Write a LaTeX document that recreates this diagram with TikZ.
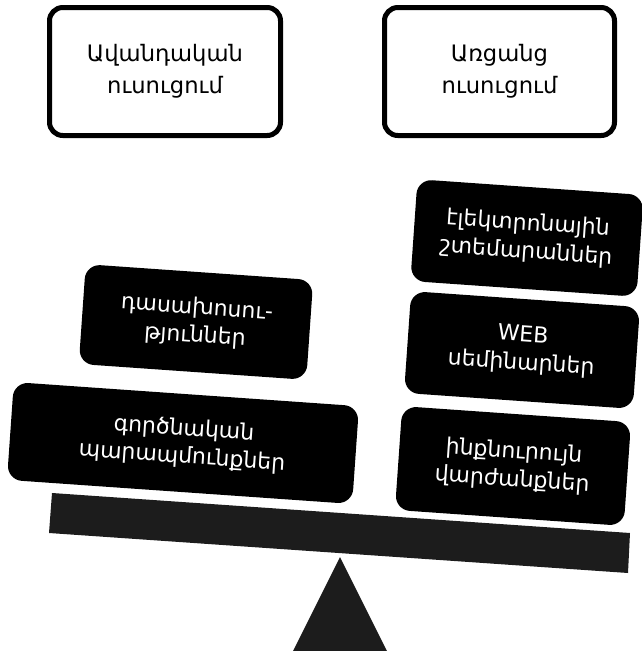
\documentclass[tikz,border=0pt]{standalone}
\usepackage{fontspec}
\setmainfont{DejaVu Sans}
\definecolor{beamgray}{HTML}{1C1C1C}
\begin{document}
\begin{tikzpicture}[x=0.75pt,y=-0.75pt,
  topbox/.style={draw=black, line width=3.75pt, rounded corners=10pt, fill=white,
    align=center, font=\fontsize{17}{24}\selectfont, inner sep=0pt},
  blkbox/.style={fill=black, text=white, rounded corners=11pt, align=center,
    rotate=-4, font=\fontsize{16.5}{21}\selectfont, inner sep=0pt},
  beamshape/.style={fill=beamgray}]
\useasboundingbox (0,0) rectangle (642,651);
% top boxes
\node[topbox, minimum width=173.25pt, minimum height=96pt] (trad) at (165,71.5) {Ավանդական\\ուսուցում};
\node[topbox, minimum width=172.5pt, minimum height=96pt] (dist) at (499.5,71.5) {Առցանց\\ուսուցում};
% beam and fulcrum
\fill[beamshape] (52,493) -- (630,533) -- (628,573) -- (49,533) -- cycle;
\fill[beamshape] (340,557) -- (387,651) -- (293,651) -- cycle;
% left side blocks
\node[blkbox, minimum width=171pt, minimum height=75pt] (lect) at (196,322) {դասախոսու-\\թյուններ};
\node[blkbox, minimum width=259.5pt, minimum height=73.5pt] (prac) at (183,443) {գործնական\\պարապմունքներ};
% right side blocks
\node[blkbox, minimum width=170pt, minimum height=76.5pt] (elib) at (527,238) {էլեկտրոնային\\շտեմարաններ};
\node[blkbox, minimum width=172pt, minimum height=76.5pt] (web) at (522,350) {WEB\\սեմինարներ};
\node[blkbox, minimum width=172pt, minimum height=78pt] (self) at (513,466) {ինքնուրույն\\վարժանքներ};
\end{tikzpicture}
\end{document}
